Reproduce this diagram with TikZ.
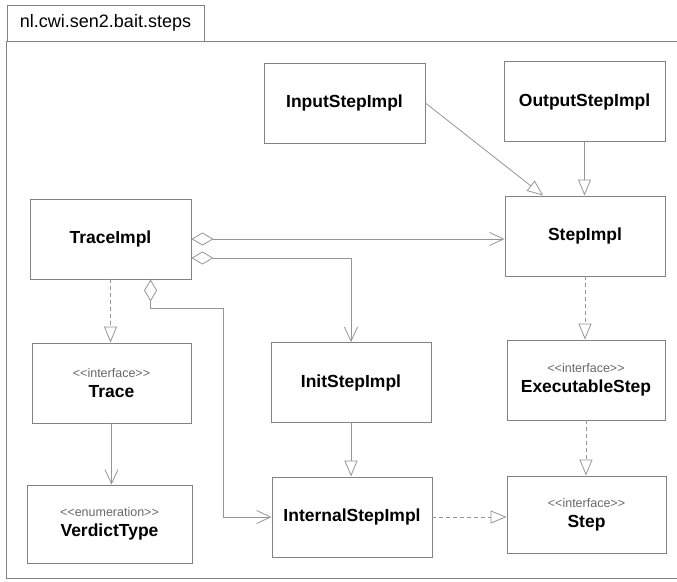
\documentclass[tikz,border=0pt]{standalone}
\usepackage{fontspec}
\setmainfont{Liberation Sans}
\usetikzlibrary{arrows.meta,calc}
\definecolor{edgegray}{RGB}{150,150,150}
\definecolor{boxgray}{RGB}{130,130,130}
\definecolor{stereogray}{RGB}{105,105,105}
% stereotype line above a class name
\newcommand\umlstereo[1]{{\color{stereogray}\fontsize{12.5}{14}\selectfont\mdseries <{}<#1>{}>}}

\begin{document}
\begin{tikzpicture}[x=1pt,y=-1pt,
  cls/.style={draw=boxgray, line width=0.9pt, fill=white, inner sep=0pt,
    align=center, minimum width=160, minimum height=80,
    font=\fontsize{17.5}{20}\selectfont\bfseries},
  conn/.style={draw=edgegray, line width=0.8pt},
  realize/.style={conn, dash pattern=on 4pt off 3pt},
  inherit/.style={-{Triangle[open, length=16pt, width=13pt]}},
  assoc/.style={-{Straight Barb[length=14pt, width=13pt]}},
  aggr/.style={{Diamond[open, length=22pt, width=13pt]}-{Straight Barb[length=14pt, width=13pt]}},
  aggrplain/.style={{Diamond[open, length=24pt, width=13pt]}-},
]
\clip (0,0) rectangle (677,581);
\fill[white] (0,0) rectangle (677,581);

% package frame with its name tab
\node[draw=boxgray, line width=0.9pt, minimum width=197, minimum height=36, inner sep=0pt,
  font=\fontsize{18}{20}\selectfont] (pkg) at (105.5,23) {nl.cwi.sen2.bait.steps};
\draw[boxgray, line width=0.9pt] (pkg.south west) rectangle (700,578);

% classes and interfaces
\node[cls, minimum width=161] (input)  at (344.5,103) {InputStepImpl};
\node[cls, minimum width=161] (output) at (584.5,101.5) {OutputStepImpl};
\node[cls] (stepimpl) at (585,236) {StepImpl};
\node[cls, minimum width=161] (traceimpl) at (110.5,239) {TraceImpl};
\node[cls, minimum width=159] (trace) at (111.5,383) {\umlstereo{interface}\\Trace};
\node[cls] (init) at (351,382.5) {InitStepImpl};
\node[cls, minimum width=158] (exec) at (586,380) {\umlstereo{interface}\\ExecutableStep};
\node[cls, minimum width=165, minimum height=78] (verdict) at (109.5,524) {\umlstereo{enumeration}\\VerdictType};
\node[cls] (internal) at (352,517) {InternalStepImpl};
\node[cls, minimum width=159, minimum height=77] (step) at (586.5,514.5) {\umlstereo{interface}\\Step};

% generalizations
\draw[conn, inherit] (input.east) -- ($(stepimpl.north west)!0.24!(stepimpl.north east)$);
\draw[conn, inherit] (output.south) -- (output.south |- stepimpl.north);
\draw[conn, inherit] (init.south) -- (init.south |- internal.north);

% realizations
\draw[realize, inherit] (traceimpl.south) -- (traceimpl.south |- trace.north);
\draw[realize, inherit] (stepimpl.south) -- (stepimpl.south |- exec.north);
\draw[realize, inherit] (exec.south) -- (exec.south |- step.north);
\draw[realize, inherit] (internal.east) -- (internal.east -| step.west);

% associations
\draw[conn, assoc] (trace.south) -- (trace.south |- verdict.north);
\draw[conn, aggr] (traceimpl.east) -- (traceimpl.east -| stepimpl.west);
\draw[conn, aggr] ($(traceimpl.east)+(0,19)$) -| (init.north);
\coordinate (bend) at (223,308);
\draw[conn, aggr] ($(traceimpl.south west)+(121,0)$) |- (bend) |- (internal.west);
\end{tikzpicture}
\end{document}
